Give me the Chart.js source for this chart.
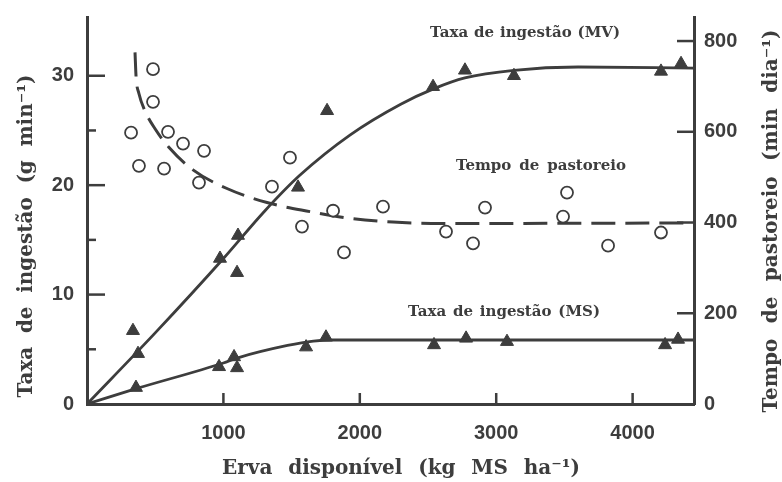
<!DOCTYPE html>
<html lang="pt">
<head>
<meta charset="UTF-8">
<title>Taxa de ingestão e tempo de pastoreio</title>
<script src="https://cdn.jsdelivr.net/npm/chart.js@4"></script>
<style>
  body { margin: 0; background: #fff; }
</style>
</head>
<body>
<canvas id="grafico" width="782" height="482"></canvas>
<script>
// Taxa de ingestão (MV), g min-1
const ervaMV = [337, 374, 975, 1100, 1107, 1547, 1760, 2537, 2771, 3130, 4208, 4355];
const taxaMV = [6.7, 4.6, 13.3, 12.0, 15.4, 19.8, 26.8, 29.0, 30.5, 30.0, 30.4, 31.1];

// Taxa de ingestão (MS), g min-1
const ervaMS = [359, 968, 1078, 1100, 1606, 1752, 2544, 2779, 3079, 4238, 4333];
const taxaMS = [1.5, 3.4, 4.3, 3.3, 5.2, 6.1, 5.4, 6.0, 5.7, 5.4, 5.9];

// Tempo de pastoreio, min dia-1
const ervaTempo = [323, 381, 484, 484, 565, 594, 704, 821, 858, 1356, 1488, 1576, 1804, 1884, 2170, 2632, 2830, 2918, 3490, 3519, 3820, 4208];
const tempo = [598, 525, 738, 666, 519, 600, 574, 488, 558, 479, 543, 391, 426, 334, 435, 380, 354, 433, 413, 466, 349, 378];

// curvas ajustadas
const curvaMVx = [0, 500, 1000, 1300, 1560, 1930, 2300, 2540, 2770, 3130, 3600, 4450];
const curvaMVy = [0, 6.5, 13.3, 17.6, 20.9, 24.6, 27.4, 28.8, 29.8, 30.5, 30.8, 30.7];
const curvaMSx = [0, 360, 1000, 1100, 1470, 1660, 1800, 2500, 4450];
const curvaMSy = [0, 1.4, 3.75, 4.2, 5.35, 5.75, 5.85, 5.85, 5.85];
const curvaTempoX = [352, 360, 380, 425, 500, 600, 777, 1026, 1320, 1635, 1906, 2243, 2600, 3000, 4400];
const curvaTempoY = [775, 720, 685, 646, 606, 566, 516, 475, 444, 424, 410, 401, 398, 398, 399];

// marcas dos eixos
const ticksX = [1000, 2000, 3000, 4000];
const ticksY = [0, 10, 20, 30];
const ticksYmenor = [5, 15, 25];
const ticksY2 = [0, 200, 400, 600, 800];

const tinta = '#3d3d3d';
const serif = '"DejaVu Serif", serif';

const pares = (xs, ys) => xs.map((x, i) => ({ x, y: ys[i] }));

// escreve um texto centrado, espalhando as palavras pela largura dada
function textoEspacado(ctx, texto, cx, cy, largura, angulo) {
  const palavras = texto.split(' ');
  const larg = palavras.map(p => ctx.measureText(p).width);
  const soma = larg.reduce((a, b) => a + b, 0);
  const espaco = ctx.measureText(' ').width;
  const gap = palavras.length > 1 ? Math.max(espaco, (largura - soma) / (palavras.length - 1)) : 0;
  const total = soma + gap * (palavras.length - 1);
  ctx.save();
  ctx.translate(cx, cy);
  ctx.rotate(angulo);
  ctx.textAlign = 'left';
  ctx.textBaseline = 'middle';
  let x = -total / 2;
  palavras.forEach((p, i) => { ctx.fillText(p, x, 0); x += larg[i] + gap; });
  ctx.restore();
}

const extras = {
  id: 'extras',
  afterDatasetsDraw(chart) {
    const { ctx, chartArea: a, scales } = chart;
    ctx.save();
    ctx.strokeStyle = tinta;
    ctx.lineWidth = 2.5;
    const traco = (x1, y1, x2, y2) => { ctx.beginPath(); ctx.moveTo(x1, y1); ctx.lineTo(x2, y2); ctx.stroke(); };
    ticksX.forEach(v => { const p = scales.x.getPixelForValue(v); traco(p, a.bottom, p, a.bottom - 11); });
    ticksY.slice(1).forEach(v => { const p = scales.y.getPixelForValue(v); traco(a.left, p, a.left + 18, p); });
    ticksYmenor.forEach(v => { const p = scales.y.getPixelForValue(v); traco(a.left, p, a.left + 9, p); });
    ticksY2.slice(1).forEach(v => { const p = scales.y2.getPixelForValue(v); traco(a.right, p, a.right - 17, p); });

    ctx.fillStyle = tinta;
    ctx.font = 'bold 15px ' + serif;
    textoEspacado(ctx, 'Taxa de ingestão (MV)', scales.x.getPixelForValue(3211), scales.y.getPixelForValue(33.9), 190, 0);
    textoEspacado(ctx, 'Tempo de pastoreio', scales.x.getPixelForValue(3328), scales.y2.getPixelForValue(525), 170, 0);
    textoEspacado(ctx, 'Taxa de ingestão (MS)', scales.x.getPixelForValue(3057), scales.y.getPixelForValue(8.4), 192, 0);

    ctx.font = 'bold 20px ' + serif;
    textoEspacado(ctx, 'Taxa de ingestão (g min⁻¹)', 27, 236, 323, -Math.PI / 2);
    textoEspacado(ctx, 'Tempo de pastoreio (min dia⁻¹)', 772, 221, 383, -Math.PI / 2);
    textoEspacado(ctx, 'Erva disponível (kg MS ha⁻¹)', 401, 469, 358, 0);
    ctx.restore();
  }
};

const fonteTicks = { family: 'Liberation Sans', size: 20, weight: 'bold' };
const rotulo = v => String(v);

new Chart(document.getElementById('grafico'), {
  type: 'scatter',
  data: {
    datasets: [
      {
        data: pares(ervaMV, taxaMV), yAxisID: 'y',
        pointStyle: 'triangle', pointRadius: 7.5, backgroundColor: tinta, borderColor: tinta, borderWidth: 1
      },
      {
        data: pares(ervaMS, taxaMS), yAxisID: 'y',
        pointStyle: 'triangle', pointRadius: 7.5, backgroundColor: tinta, borderColor: tinta, borderWidth: 1
      },
      {
        data: pares(ervaTempo, tempo), yAxisID: 'y2',
        pointStyle: 'circle', pointRadius: 6, backgroundColor: '#fff', borderColor: tinta, borderWidth: 1.8
      },
      {
        type: 'line', data: pares(curvaMVx, curvaMVy), yAxisID: 'y',
        borderColor: tinta, borderWidth: 2.8, pointRadius: 0, cubicInterpolationMode: 'monotone', fill: false
      },
      {
        type: 'line', data: pares(curvaMSx, curvaMSy), yAxisID: 'y',
        borderColor: tinta, borderWidth: 2.8, pointRadius: 0, cubicInterpolationMode: 'monotone', fill: false
      },
      {
        type: 'line', data: pares(curvaTempoX, curvaTempoY), yAxisID: 'y2',
        borderColor: tinta, borderWidth: 3, borderDash: [24, 10], pointRadius: 0,
        cubicInterpolationMode: 'monotone', fill: false
      }
    ]
  },
  options: {
    responsive: false,
    animation: false,
    layout: { padding: { top: 16, left: 0, right: 0, bottom: 0 } },
    plugins: { legend: { display: false }, tooltip: { enabled: false } },
    scales: {
      x: {
        type: 'linear', min: 0, max: 4450,
        afterBuildTicks: s => { s.ticks = ticksX.map(value => ({ value })); },
        afterFit: s => { s.height = 78; },
        grid: { display: false },
        border: { display: true, color: tinta, width: 3 },
        ticks: { color: tinta, font: fonteTicks, padding: 9, callback: rotulo }
      },
      y: {
        position: 'left', min: 0, max: 35.37,
        afterBuildTicks: s => { s.ticks = ticksY.map(value => ({ value })); },
        afterFit: s => { s.width = 87; },
        grid: { display: false },
        border: { display: true, color: tinta, width: 3 },
        ticks: { color: tinta, font: fonteTicks, padding: 5, callback: rotulo }
      },
      y2: {
        position: 'right', min: 0, max: 853,
        afterBuildTicks: s => { s.ticks = ticksY2.map(value => ({ value })); },
        afterFit: s => { s.width = 88; },
        grid: { display: false },
        border: { display: true, color: tinta, width: 3 },
        ticks: { color: tinta, font: fonteTicks, padding: 2, callback: rotulo }
      }
    }
  },
  plugins: [extras]
});
</script>
</body>
</html>
